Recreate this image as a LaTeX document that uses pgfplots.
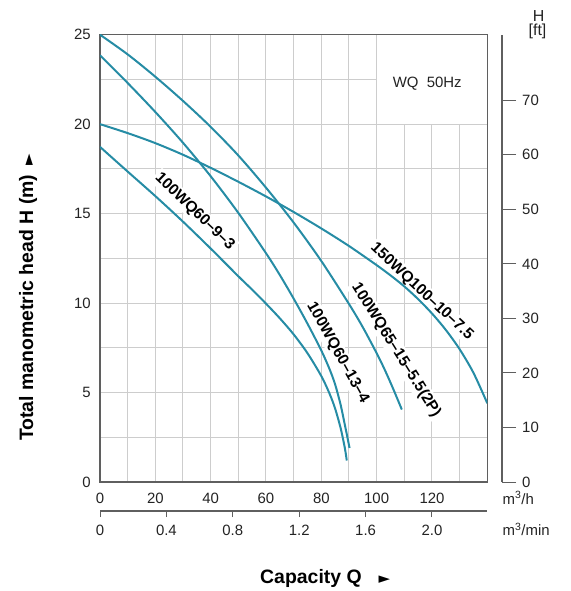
\documentclass[border=0pt]{standalone}
\usepackage{fontspec}
\setmainfont{Liberation Sans}
\newfontfamily\dejavu{DejaVu Sans}
\usepackage{pgfplots}
\pgfplotsset{compat=1.18}
\definecolor{curve}{RGB}{38,140,165}
\definecolor{gridc}{RGB}{205,205,205}
\definecolor{axc}{RGB}{95,95,95}
\definecolor{txt}{RGB}{35,35,35}
\begin{document}
\begin{tikzpicture}
\path[use as bounding box] (-100bp,-109bp) rectangle (471bp,482bp);
% main axis (m3/h, m)
\begin{axis}[
  at={(0,0)}, anchor=south west,
  scale only axis, width=387.3bp, height=447.3bp,
  xmin=0, xmax=140, ymin=0, ymax=25,
  xtick={0,20,...,120}, minor xtick={10,30,...,130},
  ytick={0,5,...,25}, minor ytick={2.5,7.5,...,22.5},
  grid=both,
  major grid style={gridc, line width=1bp},
  minor grid style={gridc, line width=1bp},
  major tick length=0pt, minor tick length=0pt,
  axis line style={axc, line width=1.1bp},
  tick label style={font=\fontsize{15}{15}\selectfont, text=txt},
  /pgf/number format/assume math mode=true,
  xticklabel style={anchor=base, inner sep=0pt, yshift=-21.5bp},
  yticklabel style={anchor=east, inner sep=0pt, xshift=-9bp},
]
\fill[white] (axis cs:100.2,20.03) rectangle (axis cs:139.8,24.97);
\node[font=\fontsize{15}{15}\selectfont, text=txt] at (axis cs:118.3,22.27) {WQ\ \ 50Hz};
\node[rotate=-44, fill=white, inner sep=2bp, font=\bfseries\fontsize{15.5}{15.5}\selectfont] at (axis cs:34.2,15.11) {100WQ60\textendash 9\textendash 3};
\node[rotate=-61, fill=white, inner sep=2bp, font=\bfseries\fontsize{15.5}{15.5}\selectfont] at (axis cs:85.9,7.23) {100WQ60\textendash 13\textendash 4};
\node[rotate=-58, fill=white, inner sep=2bp, font=\bfseries\fontsize{15.5}{15.5}\selectfont] at (axis cs:107,7.37) {100WQ65\textendash 15\textendash 5.5(2P)};
\node[rotate=-43, fill=white, inner sep=2bp, font=\bfseries\fontsize{15.5}{15.5}\selectfont] at (axis cs:116.3,10.63) {150WQ100\textendash 10\textendash 7.5};
% 100WQ60-9-3
\addplot[curve, line width=2bp, smooth] coordinates {
(0,18.73) (10,17.35) (20,15.98) (30,14.55) (40,13.05) (50,11.5) (55,10.75) (60,9.97) (65,9.15) (70,8.25) (75,7.2) (80,5.92) (83,4.93) (85,4.1) (87,3.0) (88.5,1.9) (89.2,1.2)};
% 100WQ60-13-4
\addplot[curve, line width=2bp, smooth] coordinates {
(0,23.85) (10,22.3) (20,20.68) (30,18.96) (40,17.09) (50,15.04) (60,12.79) (65,11.57) (70,10.25) (75,8.85) (80,7.35) (83,6.3) (85,5.45) (87,4.3) (88.5,3.2) (89.5,2.45) (90.2,1.9)};
% 100WQ65-15-5.5(2P)
\addplot[curve, line width=2bp, smooth] coordinates {
(0,25.0) (10,23.9) (20,22.65) (30,21.3) (40,19.85) (50,18.25) (60,16.45) (70,14.5) (80,12.35) (90,9.95) (95,8.65) (100,7.2) (103,6.25) (106,5.2) (109.1,4.05)};
% 150WQ100-10-7.5
\addplot[curve, line width=2bp, smooth] coordinates {
(0,20.0) (10,19.5) (20,18.94) (30,18.29) (40,17.56) (50,16.78) (60,15.96) (70,15.09) (80,14.17) (90,13.19) (100,12.12) (105,11.55) (110,10.93) (115,10.22) (120,9.42) (125,8.5) (130,7.42) (135,6.1) (140,4.4)};
\end{axis}
% ft axis
\begin{axis}[
  at={(402bp,0)}, anchor=south east,
  scale only axis, width=10bp, height=447.3bp,
  xmin=0, xmax=1, ymin=0, ymax=82.021,
  hide x axis, axis y line*=right,
  ytick={0,10,...,70},
  tick align=outside, major tick length=14bp,
  tick style={axc, line width=1bp},
  axis line style={axc, line width=1.1bp, -},
  tick label style={font=\fontsize{15}{15}\selectfont, text=txt},
  /pgf/number format/assume math mode=true,
  yticklabel style={anchor=west, inner sep=0pt, xshift=6bp},
]
\end{axis}
% m3/min axis
\begin{axis}[
  at={(0,-29bp)}, anchor=south west,
  scale only axis, width=387.3bp, height=10bp,
  xmin=0, xmax=2.33333, ymin=0, ymax=1,
  hide y axis, axis x line*=bottom,
  xtick={0,0.4,0.8,1.2,1.6,2.0}, xticklabels={0,0.4,0.8,1.2,1.6,2.0},
  tick align=outside, major tick length=6bp,
  tick style={axc, line width=1bp},
  axis line style={axc, line width=1.1bp, -},
  tick label style={font=\fontsize{15}{15}\selectfont, text=txt},
  xticklabel style={anchor=base, inner sep=0pt, yshift=-18.5bp},
]
\end{axis}
% outer labels
\node[rotate=90, font=\bfseries\fontsize{19.5}{19.5}\selectfont] at (-72bp,184.5bp) {Total manometric head H (m)\hspace{9bp}{\dejavu\fontsize{15}{15}\selectfont ►}};
\node[anchor=base west, inner sep=0pt, font=\bfseries\fontsize{19.5}{19.5}\selectfont] at (160bp,-101.3bp) {Capacity Q\hspace{17bp}{\dejavu\fontsize{15}{15}\selectfont ►}};
\node[font=\fontsize{16}{16}\selectfont, text=txt] at (438.7bp,465.8bp) {H};
\node[font=\fontsize{16}{16}\selectfont, text=txt] at (437.5bp,450.3bp) {[ft]};
\node[anchor=west, inner sep=0pt, font=\fontsize{15}{15}\selectfont, text=txt] at (402.5bp,-16bp) {m\textsuperscript{3}/h};
\node[anchor=west, inner sep=0pt, font=\fontsize{15}{15}\selectfont, text=txt] at (402.5bp,-47.5bp) {m\textsuperscript{3}/min};
\end{tikzpicture}
\end{document}
